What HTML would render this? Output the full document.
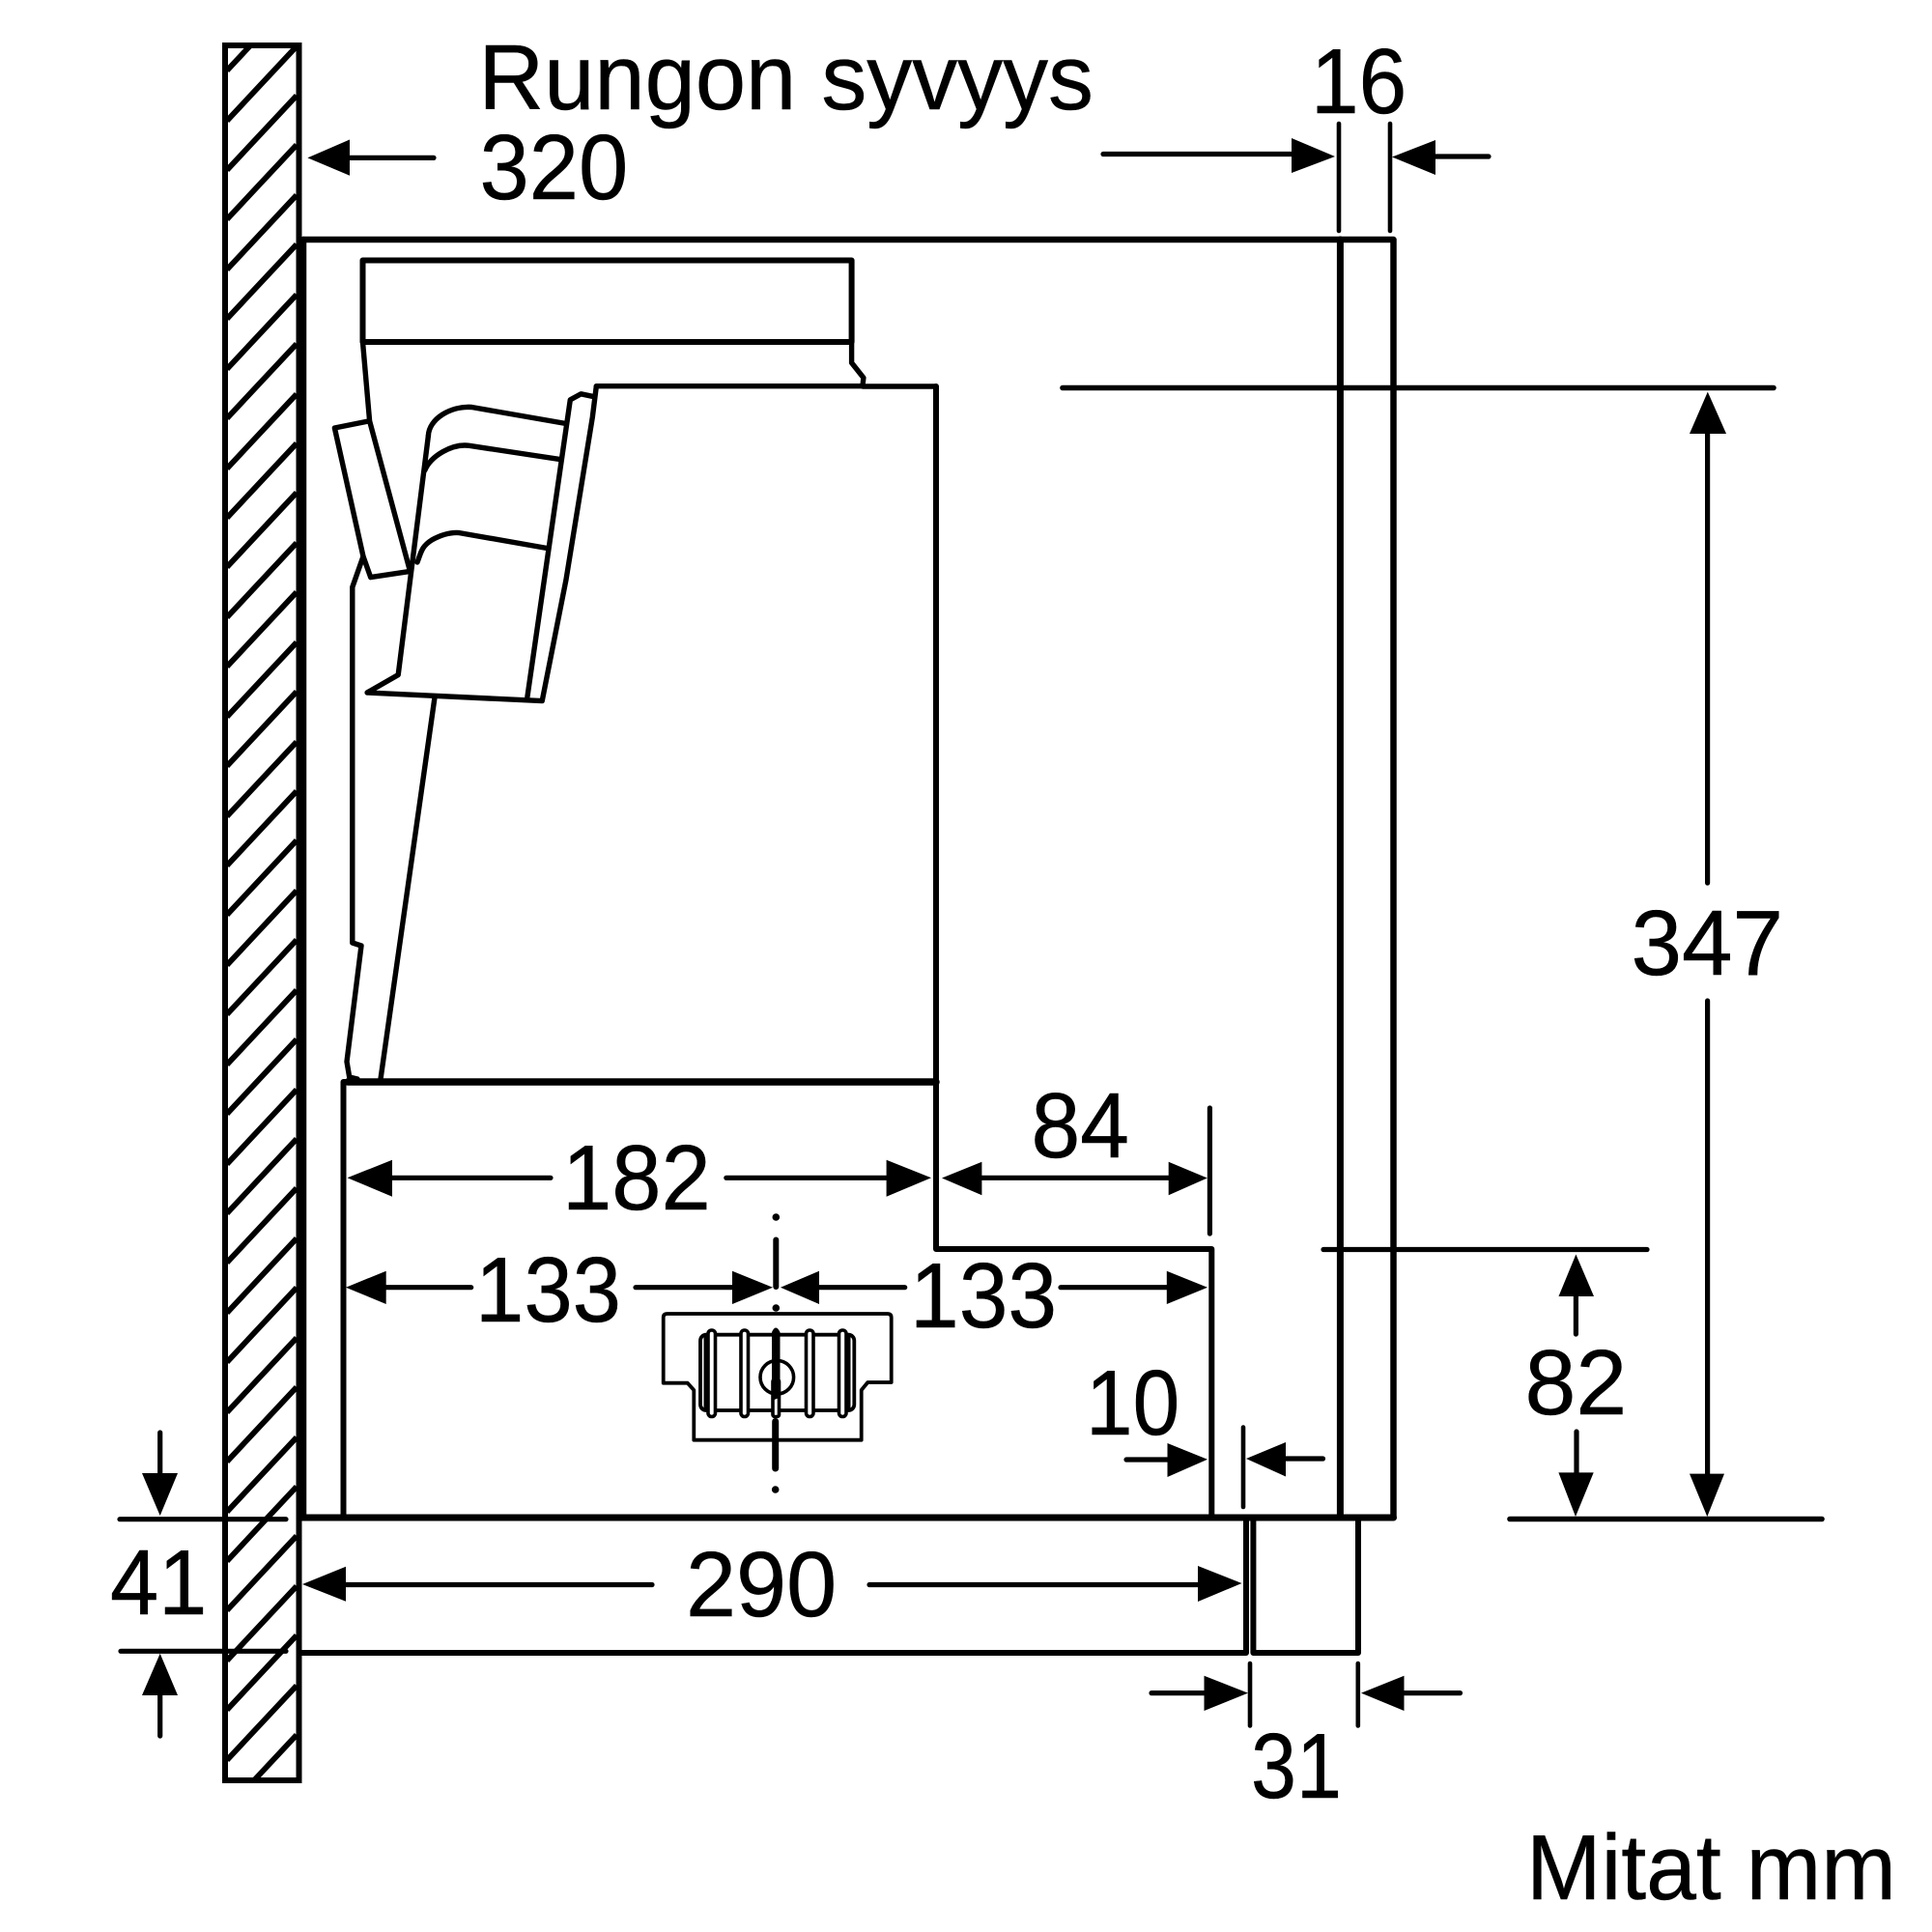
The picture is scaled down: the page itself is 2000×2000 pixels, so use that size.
<!DOCTYPE html>
<html>
<head>
<meta charset="utf-8">
<style>
html,body{margin:0;padding:0;background:#fff;width:2000px;height:2000px;overflow:hidden}
svg{display:block}
text{font-family:"Liberation Sans",Arial,sans-serif;font-size:96px;fill:#000;stroke:#000;stroke-width:.5px}
</style>
</head>
<body>
<svg width="2000" height="2000" viewBox="0 0 2000 2000" xmlns="http://www.w3.org/2000/svg">
<rect width="2000" height="2000" fill="#fff"/>
<defs>
<clipPath id="w"><rect x="232" y="46" width="78" height="1798"/></clipPath>
</defs>

<!-- wall hatch -->
<g clip-path="url(#w)" stroke="#000" stroke-width="5.8" fill="none">
<path d="M235 73 L307 -4 M235 125 L307 48 M235 176 L307 99 M235 227 L307 150 M235 279 L307 202 M235 330 L307 253 M235 382 L307 305 M235 433 L307 356 M235 485 L307 408 M235 536 L307 459 M235 587 L307 510 M235 639 L307 562 M235 690 L307 613 M235 742 L307 665 M235 793 L307 716 M235 845 L307 768 M235 896 L307 819 M235 947 L307 870 M235 999 L307 922 M235 1050 L307 973 M235 1102 L307 1025 M235 1153 L307 1076 M235 1205 L307 1128 M235 1256 L307 1179 M235 1307 L307 1230 M235 1359 L307 1282 M235 1410 L307 1333 M235 1462 L307 1385 M235 1513 L307 1436 M235 1565 L307 1488 M235 1616 L307 1539 M235 1667 L307 1590 M235 1719 L307 1642 M235 1770 L307 1693 M235 1822 L307 1745 M235 1873 L307 1796"/>
</g>
<rect x="233" y="47" width="76.5" height="1796" fill="none" stroke="#000" stroke-width="6"/>

<g fill="none" stroke="#000" stroke-linejoin="round" stroke-linecap="round">
<!-- cabinet -->
<path d="M314 248 H1442.5 V1571" stroke-width="6.5"/>
<path d="M314 248 V1571" stroke-width="6.5"/>
<path d="M1387.4 248 V1571" stroke-width="7"/>
<path d="M312 1571 H1442.5" stroke-width="7"/>
<!-- lower panel -->
<path d="M312 1711 H1290 V1571" stroke-width="6"/>
<path d="M1297.4 1571 V1711 H1406 V1571" stroke-width="6"/>
<!-- lower body -->
<path d="M355.5 1571 V1120 H969" stroke-width="6"/>
<path d="M360 1120 H969" stroke-width="7.5"/>
<path d="M969 400 V1293 H1254.3 V1571" stroke-width="6"/>
<!-- top box -->
<path d="M375.5 354 V269.5 H881.6 V354 Z" stroke-width="6"/>
<path d="M881.6 354 V375.6 L893.9 391 L892.9 400 H969" stroke-width="5.4"/>
<path d="M617.3 399.7 H892.9" stroke-width="5.4"/>
<!-- housing -->
<path d="M617.3 400 L613.3 432 L586 600 L561.2 725.6 L380.1 717 L412.2 698.6 L443.4 451" stroke-width="5.4"/>
<path d="M613.3 410.3 L601.5 407.8 L590.3 413.9 L545.9 721.5" stroke-width="5.4"/>
<path d="M443.4 451 C444 434 466 420 488.3 421.5 L585.2 438.4" stroke-width="5.4"/>
<path d="M439.8 486.8 C446 472 468 459 485.7 461.3 L580 475.6" stroke-width="5.4"/>
<path d="M432 582 C436 572 436 566 447 559 C458 553 468 551 475.5 551.6 L566.3 567.5" stroke-width="5.4"/>
<!-- back shapes -->
<path d="M375.5 354 L382.6 435.8 L424.5 591.4 L383.7 597.6 L376 576 L346.4 443 L382.6 435.8" stroke-width="5.4"/>
<path d="M376 576 L364.8 607.8 V976 L374 979 L359 1099 L361.7 1115 L370 1117" stroke-width="5.4"/>
<path d="M450 722 L394 1117" stroke-width="5.4"/>
<!-- device -->
<path d="M686.7 1364 Q686.7 1360 690.7 1360 H918.7 Q922.7 1360 922.7 1364 V1431 H898.3 L891.7 1439 V1490.7 H718.3 V1439 L711.7 1431.7 H686.7 Z" stroke-width="3.8"/>
<rect x="725" y="1381.7" width="159.3" height="78.3" rx="6" stroke-width="3.8"/>
<path d="M730 1383 V1459 M879 1383 V1459" stroke-width="3"/>
<circle cx="804.3" cy="1425.7" r="17.3" stroke-width="3.6"/>
</g>
<g fill="#fff" stroke="#000" stroke-width="3.6">
<rect x="733" y="1377" width="7.5" height="89.5" rx="3.7"/>
<rect x="767" y="1377" width="7.5" height="89.5" rx="3.7"/>
<rect x="834.5" y="1377" width="7.5" height="89.5" rx="3.7"/>
<rect x="868.5" y="1377" width="7.5" height="89.5" rx="3.7"/>
<rect x="800" y="1428" width="6.5" height="38.5" rx="2"/>
</g>
<path d="M799 1379 Q803 1370 807.5 1379 V1428 L806.5 1447 L799 1450 Z" fill="#000"/>

<!-- centre line -->
<g stroke="#000" fill="none" stroke-linecap="round">
<path d="M803.3 1283.5 V1332" stroke-width="6"/>
<path d="M802.7 1471.5 V1520" stroke-width="7"/>
</g>
<g fill="#000">
<circle cx="803.3" cy="1260" r="3.8"/>
<circle cx="803.3" cy="1354" r="3.8"/>
<circle cx="802.7" cy="1542" r="3.8"/>
</g>

<!-- dimension lines -->
<g fill="none" stroke="#000" stroke-width="5.2" stroke-linecap="round">
<path d="M1386 128 V239 M1439 128 V239" stroke-width="4.6"/>
<path d="M1142 159.5 H1340"/>
<path d="M1484 162 H1541"/>
<path d="M1100 401.5 H1836" stroke-width="5.6"/>
<path d="M1370 1293.5 H1705"/>
<path d="M1563 1572.5 H1886" stroke-width="5.6"/>
<path d="M1767.6 447 V914 M1767.6 1036 V1528"/>
<path d="M1631.4 1340 V1381 M1632 1482 V1526"/>
<path d="M362 163.4 H449"/>
<path d="M570 1219.3 H404 M751.8 1219.3 H919"/>
<path d="M1014 1219.3 H1212"/>
<path d="M1252.4 1147 V1277"/>
<path d="M487.7 1332.7 H398 M658 1332.7 H760"/>
<path d="M936.7 1332.7 H846 M1098 1332.7 H1210"/>
<path d="M1166 1511 H1210 M1329 1510 H1369.5"/>
<path d="M1287 1477.5 V1560" stroke-width="4.6"/>
<path d="M675 1640.5 H356 M900 1640.5 H1242"/>
<path d="M1192 1752.6 H1248 M1451 1752.6 H1511.5"/>
<path d="M1294 1722 V1786.5 M1405.8 1722 V1786.5" stroke-width="4.6"/>
<path d="M124 1572.7 H296 M125 1709.3 H296"/>
<path d="M165.7 1483 V1527 M165.7 1753 V1797"/>
</g>

<!-- arrowheads -->
<g fill="#000">
<polygon points="318.4,163.4 362,144.5 362,181.7"/>
<polygon points="1382,162 1337,143 1337,179"/>
<polygon points="1441,162.5 1486,145 1486,181"/>
<polygon points="1767.8,405.6 1749,449 1787,449"/>
<polygon points="1767.3,1570 1749,1525.6 1785,1525.6"/>
<polygon points="1631.4,1298.5 1613.5,1342 1650,1342"/>
<polygon points="1631,1570 1613.4,1524.4 1649.7,1524.4"/>
<polygon points="359.5,1219.3 406,1200.7 406,1238.7"/>
<polygon points="964,1219.3 917.6,1200.7 917.6,1238.7"/>
<polygon points="975,1219.5 1016.4,1202.7 1016.4,1237.3"/>
<polygon points="1249.8,1219.5 1209.7,1202.7 1209.7,1237.3"/>
<polygon points="358,1332.7 399.7,1315.7 399.7,1350"/>
<polygon points="800,1332.7 758,1315.7 758,1350"/>
<polygon points="808,1332.7 848,1315.7 848,1350"/>
<polygon points="1250,1332.7 1207.8,1315.7 1207.8,1350"/>
<polygon points="1250,1510.7 1208.5,1494 1208.5,1529"/>
<polygon points="1290,1510 1331,1493 1331,1528.5"/>
<polygon points="313,1640 358,1621.7 358,1657.7"/>
<polygon points="1285.5,1639 1240,1621 1240,1658"/>
<polygon points="1292,1752.6 1246.5,1734.8 1246.5,1771"/>
<polygon points="1409,1752.6 1453.5,1734.8 1453.5,1771"/>
<polygon points="165.7,1569 147,1525 184,1525"/>
<polygon points="165.7,1711.7 147,1755 184,1755"/>
</g>

<!-- labels -->
<text transform="translate(495.4,113) scale(.978,1)">Rungon syvyys</text>
<text transform="translate(496.5,206) scale(.96,1)">320</text>
<text transform="translate(1357,117) scale(.93,1)">16</text>
<text transform="translate(1688.5,1009) scale(.984,1)">347</text>
<text transform="translate(1578.5,1464) scale(.99,1)">82</text>
<text transform="translate(582,1252) scale(.96,1)">182</text>
<text transform="translate(1067.5,1198) scale(.95,1)">84</text>
<text transform="translate(492,1368) scale(.943,1)">133</text>
<text transform="translate(942,1374) scale(.95,1)">133</text>
<text transform="translate(1124,1485) scale(.91,1)">10</text>
<text transform="translate(114,1671) scale(.94,1)">41</text>
<text transform="translate(710,1673) scale(.975,1)">290</text>
<text transform="translate(1295,1861) scale(.88,1)">31</text>
<text transform="translate(1580,1966) scale(.97,1)">Mitat mm</text>
</svg>
</body>
</html>
